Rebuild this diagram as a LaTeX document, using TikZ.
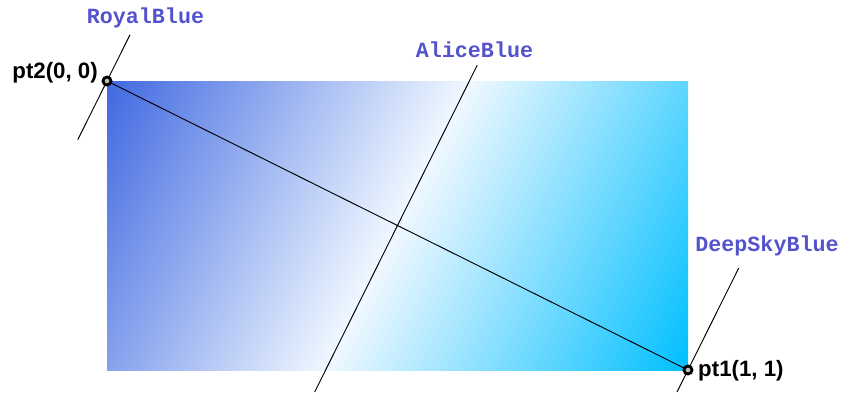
\documentclass[tikz,border=0pt]{standalone}
\usepackage{fontspec}
\setmainfont{Liberation Sans}
\newfontfamily\monofont{Liberation Mono}

\definecolor{royal}{RGB}{65,105,225}
\definecolor{alice}{RGB}{240,248,255}
\definecolor{deepsky}{RGB}{0,191,255}
\definecolor{nombre}{RGB}{83,83,205}

% degradado: 25bp -> 75bp es la parte que cubre el camino
\pgfdeclarehorizontalshading{diagonal}{100bp}{color(0bp)=(royal); color(25bp)=(royal);
  color(50bp)=(alice); color(75bp)=(deepsky); color(100bp)=(deepsky)}

\begin{document}
\begin{tikzpicture}[
        x=0.03cm, y=-0.03cm,
        punto/.style={circle, draw=black, fill=gray!50, line width=2.4pt, inner sep=0pt, minimum size=0.24cm},
        linea/.style={draw=black, line width=0.8pt},
        etiq/.style={font=\fontsize{19}{22}\selectfont\bfseries, text=black, inner sep=0pt},
        nomcolor/.style={font=\fontsize{18.5}{21}\monofont\bfseries, text=nombre, inner sep=0pt}
    ]
        \useasboundingbox (0,0) rectangle (841,392);

        % Puntos del degradado
        \coordinate (pt2) at (107,81);
        \coordinate (pt1) at (688,370);
        \coordinate (m) at (397.5,225.5);

        % Rectangulo con el degradado
        \begin{scope}
            \clip (pt2) rectangle (pt1);
            \shade[shading=diagonal, shading angle=-26.45]
                (m) +(-324.5,-324.5) rectangle +(324.5,324.5);
        \end{scope}

        % Extremos de las perpendiculares
        \coordinate (a1) at (129.9,34.9);
        \coordinate (a2) at (77.8,139.7);
        \coordinate (b1) at (477.2,65.2);
        \coordinate (b2) at (314.7,392);
        \coordinate (c1) at (738.7,268.1);
        \coordinate (c2) at (677,392);

        % Lineas
        \draw[linea] (pt2) -- (pt1);
        \draw[linea] (a1) -- (a2);
        \draw[linea] (b1) -- (b2);
        \draw[linea] (c1) -- (c2);

        % Nodos
        \node[punto] (p2) at (pt2) {};
        \node[punto] (p1) at (pt1) {};

        % Etiquetas
        \node[etiq, anchor=east] (e2) at (98,73) {pt2(0, 0)};
        \node[etiq, anchor=west] (e1) at (698,371) {pt1(1, 1)};
        \node[nomcolor] (n1) at (145.5,18) {RoyalBlue};
        \node[nomcolor] (n2) at (474.5,50) {AliceBlue};
        \node[nomcolor] (n3) at (767,246) {DeepSkyBlue};
    \end{tikzpicture}
\end{document}
